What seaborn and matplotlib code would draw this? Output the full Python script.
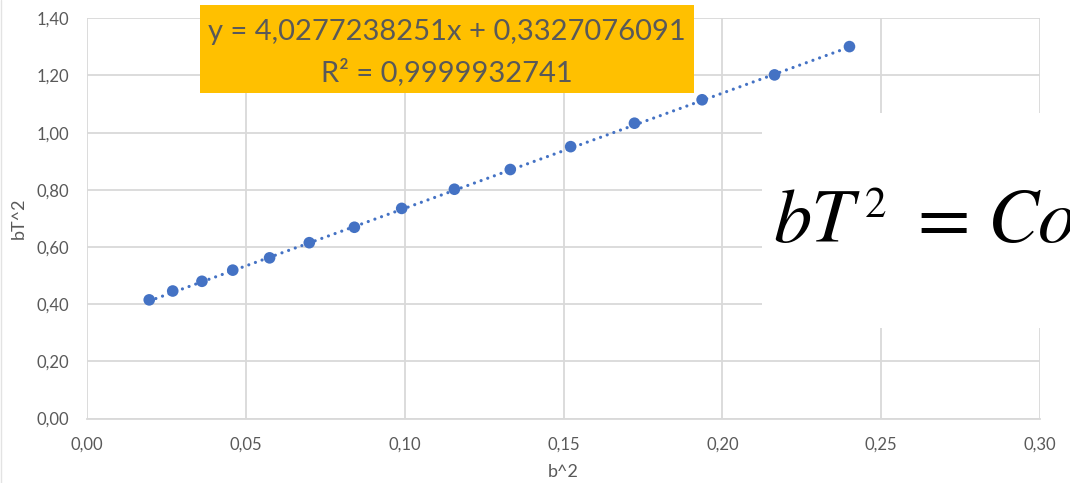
import matplotlib
matplotlib.use("Agg")
import matplotlib.pyplot as plt
from matplotlib.patches import Rectangle
from matplotlib.lines import Line2D
from matplotlib.ticker import FuncFormatter
import numpy as np
import pandas as pd
import seaborn as sns

# Measured values: b^2 against b*T^2
b_squared = [0.0195, 0.0269, 0.0361, 0.0458, 0.0574, 0.0699, 0.0841, 0.0990,
             0.1156, 0.1332, 0.1522, 0.1723, 0.1936, 0.2164, 0.2400]
bT_squared = [0.415, 0.446, 0.480, 0.519, 0.562, 0.615, 0.669, 0.735,
              0.802, 0.871, 0.951, 1.033, 1.115, 1.202, 1.301]

# Linear trendline coefficients
slope = 4.0277238251
intercept = 0.3327076091
r_squared = 0.9999932741

x_ticks = [0.00, 0.05, 0.10, 0.15, 0.20, 0.25, 0.30]
y_ticks = [0.00, 0.20, 0.40, 0.60, 0.80, 1.00, 1.20, 1.40]

df = pd.DataFrame({"b^2": b_squared, "bT^2": bT_squared})

W, H = 1070, 483
sns.set_theme(style="white")
plt.rcParams["font.family"] = ["Lato", "DejaVu Sans"]

fig = plt.figure(figsize=(W / 100, H / 100), dpi=100)
ax = fig.add_axes([87.3 / W, 1 - 418.5 / H, (1040 - 87.3) / W, (418.5 - 18.3) / H])

grey_text = "#595959"
grid_col = "#d9d9d9"
blue = "#4472C4"

# Trendline over the data range
xfit = np.array([min(b_squared), max(b_squared)])
fit_df = pd.DataFrame({"x": xfit, "y": slope * xfit + intercept})
sns.lineplot(data=fit_df, x="x", y="y", ax=ax, color=blue, linewidth=2.3,
             linestyle=(0, (0.01, 2.2)), dash_capstyle="round", zorder=3)

sns.scatterplot(data=df, x="b^2", y="bT^2", ax=ax, color=blue, s=70,
                edgecolor="none", zorder=4)

ax.set_xlim(0, 0.30)
ax.set_ylim(0, 1.40)
ax.set_xticks(x_ticks)
ax.set_yticks(y_ticks)
comma = FuncFormatter(lambda v, p: f"{v:.2f}".replace(".", ","))
ax.xaxis.set_major_formatter(comma)
ax.yaxis.set_major_formatter(comma)
ax.grid(True, color=grid_col, linewidth=1.3)
ax.set_axisbelow(True)
for side in ["top", "right", "left"]:
    ax.spines[side].set_visible(False)
ax.spines["bottom"].set_color(grid_col)
ax.spines["bottom"].set_linewidth(1.3)
ax.tick_params(axis="both", length=0, labelsize=12, labelcolor=grey_text)
ax.tick_params(axis="y", pad=13)
ax.tick_params(axis="x", pad=13)
ax.set_xlabel("b^2", fontsize=13, color=grey_text, labelpad=8)
ax.set_ylabel("bT^2", fontsize=13, color=grey_text, labelpad=7)

# Chart border line along the left edge
fig.add_artist(Line2D([1 / W, 1 / W], [0, 1], color="#e3e3e3", linewidth=1,
                      transform=fig.transFigure))

# Equation label box
fig.add_artist(Rectangle((200 / W, 1 - 93.5 / H), (694 - 200) / W, (93.5 - 5) / H,
                         transform=fig.transFigure, facecolor="#FFC000",
                         edgecolor="none", zorder=5))
eq1 = f"y = {slope:.10f}".replace(".", ",") + "x + " + f"{intercept:.10f}".replace(".", ",")
eq2 = "R² = " + f"{r_squared:.10f}".replace(".", ",")
fig.text(447 / W, 1 - 32 / H, eq1, ha="center", va="center", fontsize=21,
         color=grey_text, zorder=6)
fig.text(447 / W, 1 - 72 / H, eq2, ha="center", va="center", fontsize=21,
         color=grey_text, zorder=6)

# Formula panel on the right
fig.add_artist(Rectangle((762 / W, 1 - 327.5 / H), (W - 762) / W, (327.5 - 112.7) / H,
                         transform=fig.transFigure, facecolor="white",
                         edgecolor="none", zorder=5))
formula_pieces = [
    ("bT", 773, 242, 55, "italic"),
    ("2", 865, 217, 31, "normal"),
    ("=", 917, 242, 55, "normal"),
    ("Co", 988, 242, 55, "italic"),
]
for txt, px, py, size, style in formula_pieces:
    fig.text(px / W, 1 - py / H, txt, ha="left", va="baseline",
             fontsize=size, fontstyle=style, family="STIXGeneral",
             color="black", zorder=6)

fig.savefig("out.png", dpi=100)
